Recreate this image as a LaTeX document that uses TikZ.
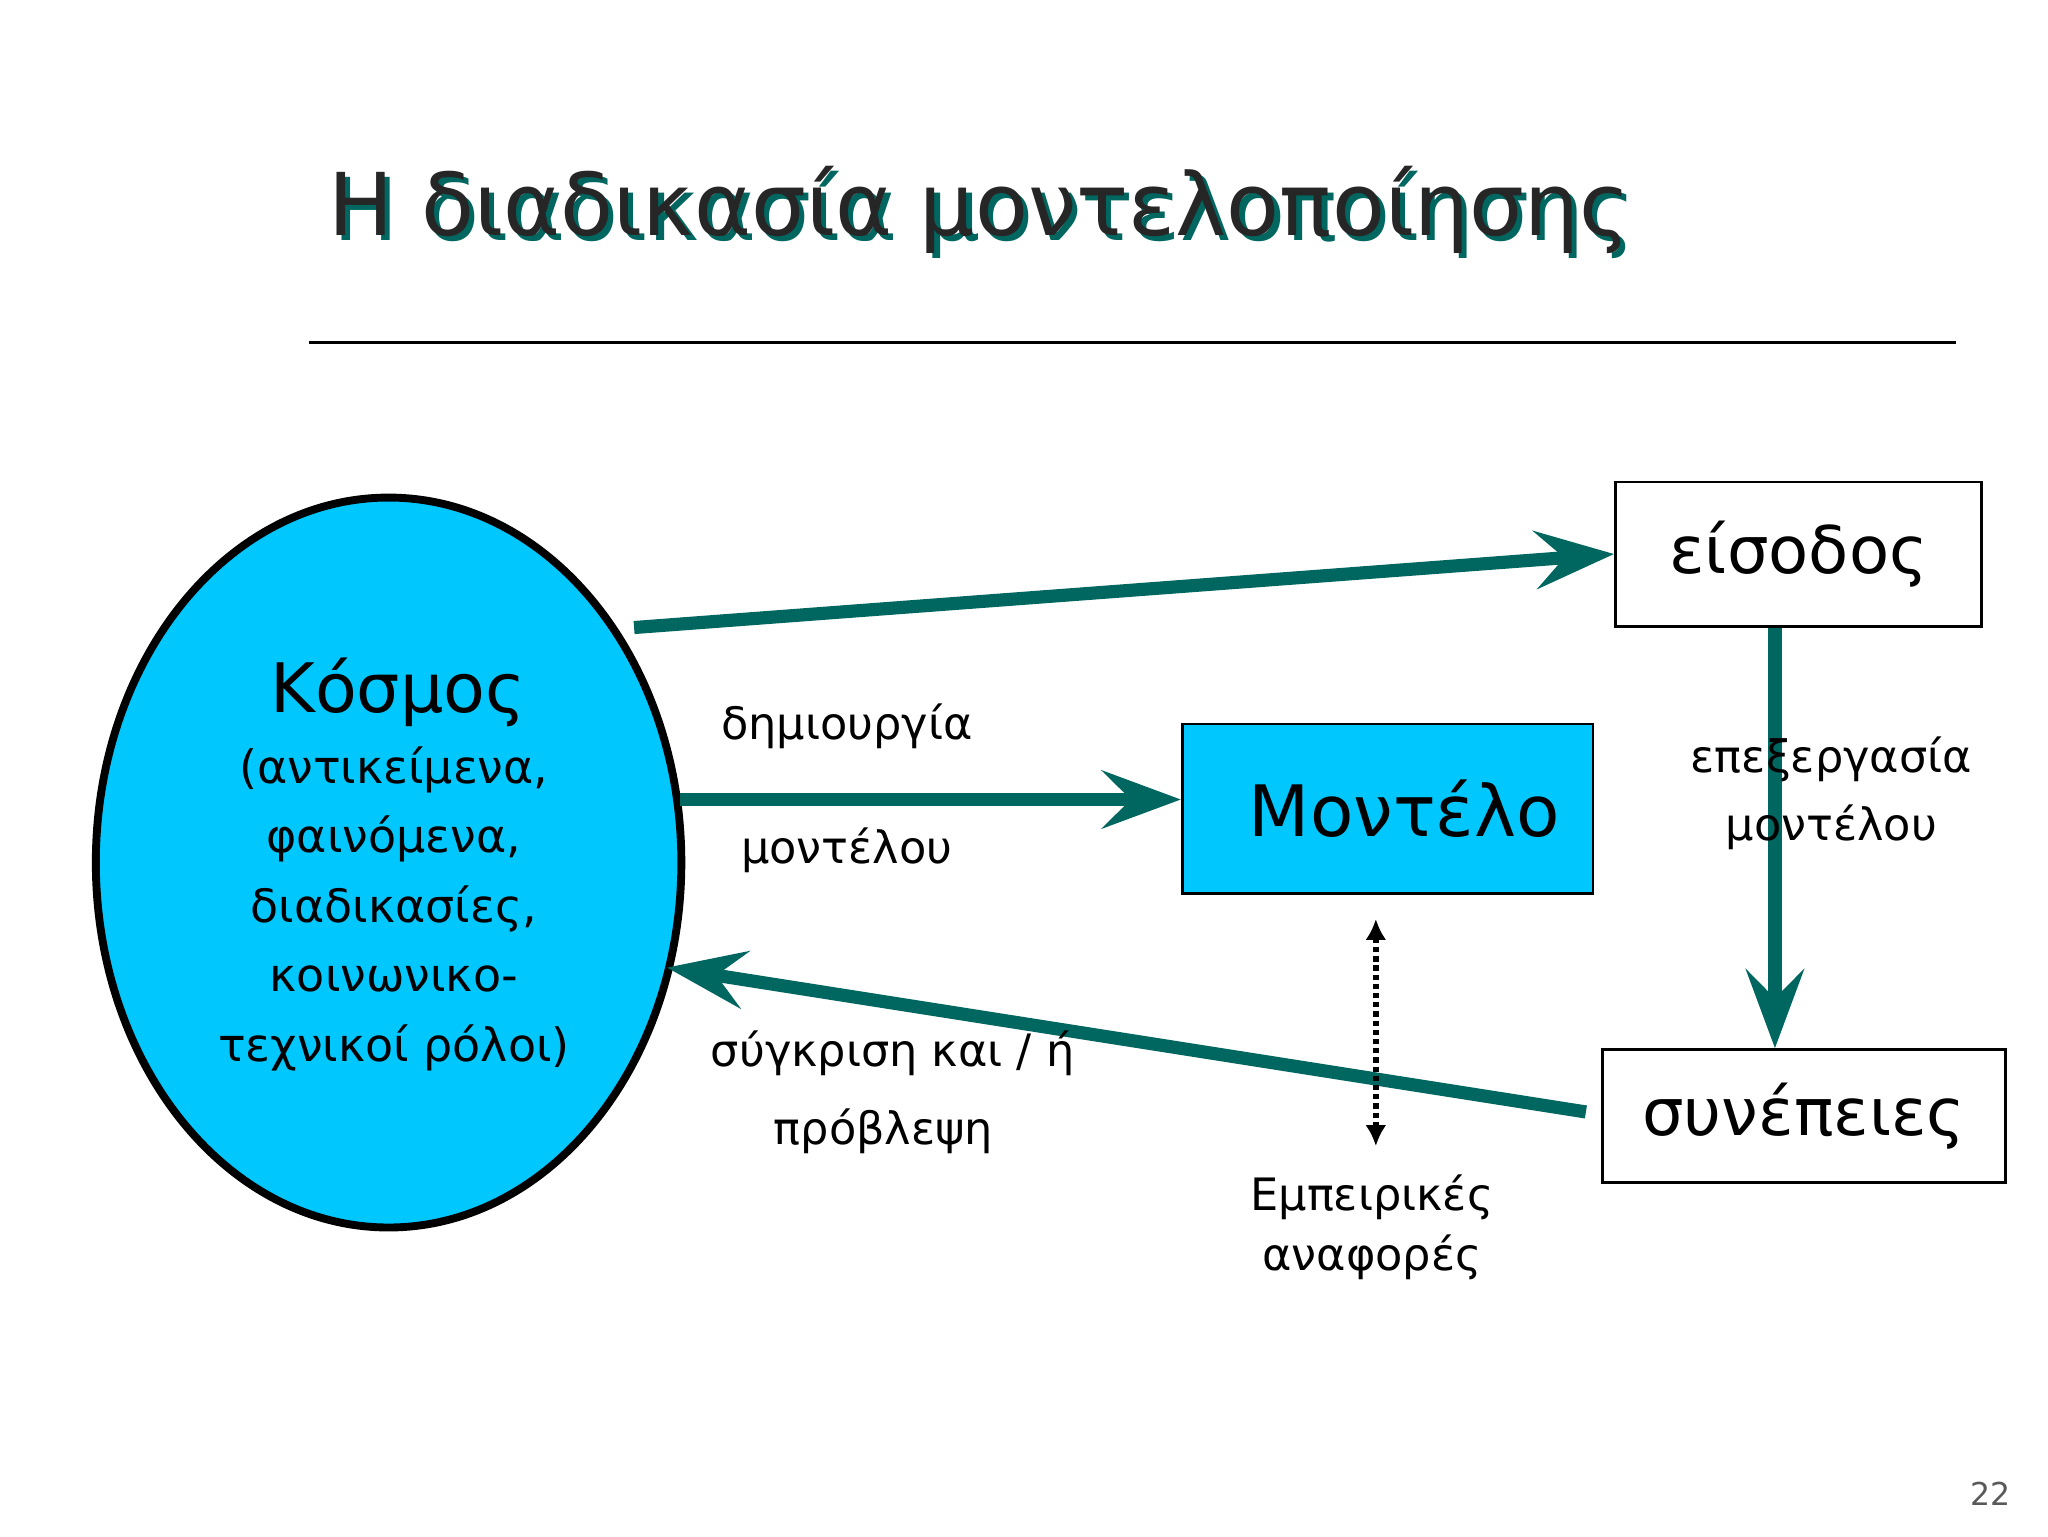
\documentclass[tikz,border=0pt]{standalone}
\usepackage{fontspec}
\setmainfont{DejaVu Sans}
\usetikzlibrary{arrows.meta,shapes.geometric}
\definecolor{teal1}{HTML}{006660}
\definecolor{cyanf}{HTML}{00C8FF}
\tikzset{
  flow/.style={teal1,line width=10pt,-{Stealth[length=60pt,width=44pt,inset=22pt]}},
  lbl/.style={font=\fontsize{34}{40}\selectfont,align=center},
  boxn/.style={draw=black,line width=2pt,minimum width=#1,minimum height=110pt,inner sep=0pt},
}
\begin{document}
\begin{tikzpicture}[x=1pt,y=-1pt]
\useasboundingbox (0,0) rectangle (1560,1170);
\fill[white] (0,0) rectangle (1560,1170);
\node[teal1,font=\fontsize{66}{72}\selectfont] (tsh) at (750,164) {Η διαδικασία μοντελοποίησης};
\node[black!85,font=\fontsize{66}{72}\selectfont] (title) at (746,160) {Η διαδικασία μοντελοποίησης};
\coordinate (l1) at (235,261); \coordinate (l2) at (1490,261);
\draw[line width=2pt] (l1) -- (l2);
\node[ellipse,draw=black,line width=6pt,fill=cyanf,minimum width=446pt,minimum height=556pt,inner sep=0pt] (world) at (296,657) {};
\node[font=\fontsize{52}{56}\selectfont] (k) at (303,527) {Κόσμος};
\node[lbl,anchor=north,font=\fontsize{35}{53}\selectfont] (kt) at (300,565) {(αντικείμενα,\\φαινόμενα,\\διαδικασίες,\\κοινωνικο-\\τεχνικοί ρόλοι)};
\node[boxn=279pt,minimum height=110pt,font=\fontsize{50}{54}\selectfont] (in) at (1370,422) {είσοδος};
\node[boxn=313pt,minimum height=129pt,fill=cyanf,font=\fontsize{54}{58}\selectfont] (mod) at (1057,616) {\hspace*{25pt}Μοντέλο};
\node[boxn=307pt,minimum height=101pt,font=\fontsize{50}{54}\selectfont] (out) at (1374,850) {συνέπειες};
\coordinate (a1s) at (483,478);
\draw[flow] (a1s) -- (in.west);
\coordinate (a2s) at (518,609);
\draw[flow] (a2s) -- (mod.west |- a2s);
\draw[flow] (in.south -| 1352,0) -- (out.north -| 1352,0);
\coordinate (a4s) at (1208,847); \coordinate (a4e) at (508,737);
\draw[flow] (a4s) -- (a4e);
\coordinate (d1) at (1048,700); \coordinate (d2) at (1048,873);
\draw[line width=5pt,dash pattern=on 4pt off 3pt,{Latex[length=16pt,width=16pt]}-{Latex[length=16pt,width=16pt]}] (d1) -- (d2);
\node[lbl] (t1) at (645,553) {δημιουργία};
\node[lbl] (t2) at (645,648) {μοντέλου};
\node[lbl,font=\fontsize{34}{52}\selectfont] (t3) at (1395,604) {επεξεργασία\\μοντέλου};
\node[lbl] (t4) at (680,802) {σύγκριση και / ή};
\node[lbl] (t5) at (673,862) {πρόβλεψη};
\node[lbl,font=\fontsize{34}{46}\selectfont] (t6) at (1045,935) {Εμπειρικές\\αναφορές};
\node[gray!70!black,font=\fontsize{24}{28}\selectfont] (pg) at (1516,1138) {22};
\end{tikzpicture}
\end{document}
